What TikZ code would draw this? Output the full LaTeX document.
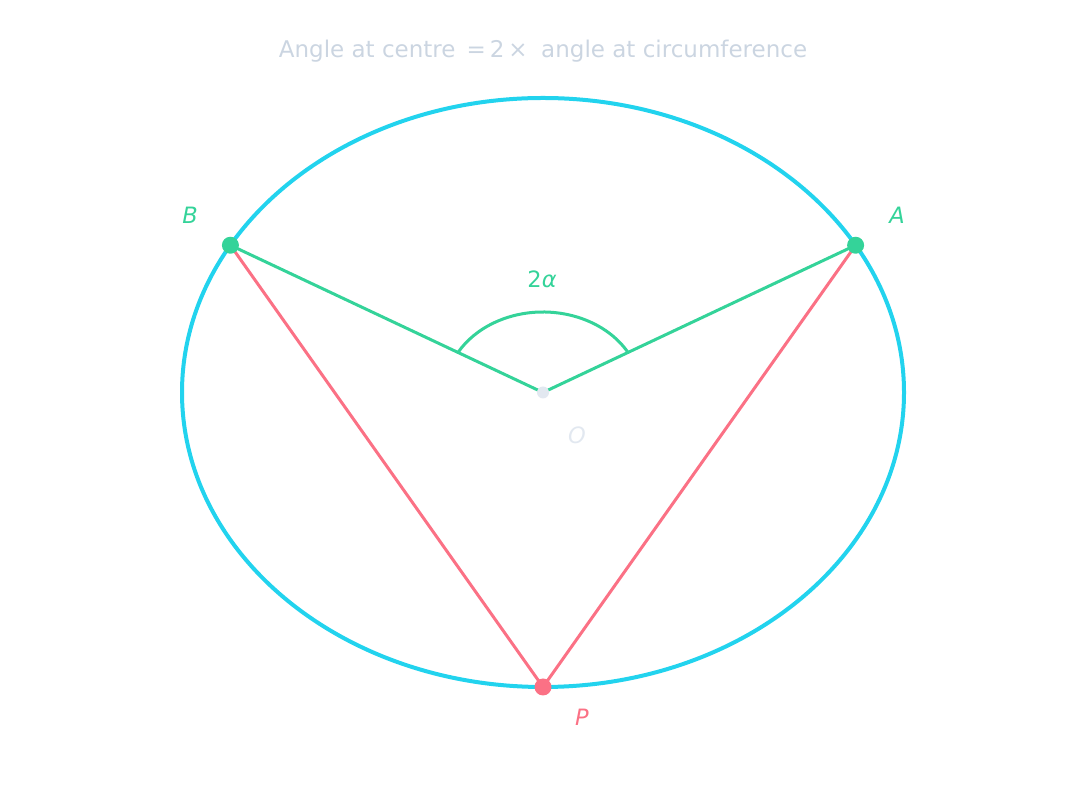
\documentclass[tikz,border=0pt]{standalone}
\usepackage{fontspec}
\setmainfont{DejaVu Sans}
\definecolor{cyanc}{HTML}{22D3EE}
\definecolor{greenc}{HTML}{34D399}
\definecolor{redc}{HTML}{FB7185}
\definecolor{titlec}{HTML}{CBD5E1}
\definecolor{oc}{HTML}{E2E8F0}
\begin{document}
\begin{tikzpicture}[x=1pt,y=1pt,
  radius line/.style={greenc, line width=3pt},
  chord line/.style={redc, line width=3pt},
  dot/.style={circle, inner sep=0pt, minimum size=17pt},
  lbl/.style={font=\fontsize{22.5}{26}\selectfont\itshape}]
\useasboundingbox (0,0) rectangle (1086,786);
\coordinate (O) at (543,393.5);
\coordinate (A) at (855.6,540.75);
\coordinate (B) at (230.4,540.75);
\coordinate (P) at (543,99);
\draw[cyanc, line width=4pt] (O) ellipse [x radius=361, y radius=294.5];
\draw[radius line] (O) -- (A);
\draw[radius line] (O) -- (B);
\draw[radius line] ([shift={(30:98 and 80.5)}]O) arc[start angle=30, end angle=150, x radius=98, y radius=80.5];
\draw[chord line] (P) -- (A);
\draw[chord line] (P) -- (B);
\node[dot, fill=greenc] (dA) at (A) {};
\node[dot, fill=greenc] (dB) at (B) {};
\node[dot, fill=redc] (dP) at (P) {};
\node[dot, fill=oc, minimum size=12pt] (dO) at (O) {};
\node[lbl, text=greenc] (lA) at (897,571) {A};
\node[lbl, text=greenc] (lB) at (190,571) {B};
\node[lbl, text=redc] (lP) at (582,69) {P};
\node[lbl, text=oc] (lO) at (577,351) {O};
\node[font=\fontsize{22.5}{26}\selectfont, text=greenc] (l2a) at (542,507) {2\textit{α}};
\node[font=\fontsize{23}{27}\selectfont, text=titlec] (title) at (543,735) {Angle at centre \,=\,2\,×\; angle at circumference};
\end{tikzpicture}
\end{document}
